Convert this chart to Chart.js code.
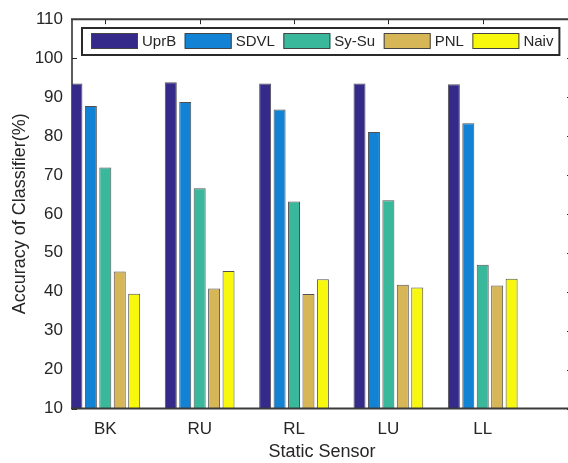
<!DOCTYPE html>
<html>
<head>
<meta charset="utf-8">
<script src="https://cdn.jsdelivr.net/npm/chart.js@4/dist/chart.umd.min.js"></script>
<style>
  html, body { margin: 0; padding: 0; background: #fff; overflow: hidden; }
  canvas { display: block; }
</style>
</head>
<body>
<canvas id="c" width="600" height="463"></canvas>
<script>
// Sensor positions and classifier accuracies (%)
const categories = ['BK', 'RU', 'RL', 'LU', 'LL'];
const seriesNames = ['UprB', 'SDVL', 'Sy-Su', 'PNL', 'Naiv'];
const uprB = [93.5, 93.8, 93.5, 93.5, 93.3];
const sdvl = [87.7, 88.7, 86.8, 81.0, 83.3];
const sySu = [71.9, 66.6, 63.2, 63.5, 46.9];
const pnl  = [45.2, 40.8, 39.4, 41.8, 41.6];
const naiv = [39.5, 45.3, 43.2, 41.1, 43.3];
const yTicks = [10, 20, 30, 40, 50, 60, 70, 80, 90, 100, 110];

const seriesValues = [uprB, sdvl, sySu, pnl, naiv];
const seriesColors = ['#35298a', '#1283d4', '#39b89b', '#d6b657', '#f8f80f'];

const FONT = "'Liberation Sans', Arial, Helvetica, sans-serif";
const INK = '#262626';

// Box outline, inward tick marks and the boxed legend
const framePlugin = {
  id: 'frame',
  beforeDatasetsDraw(chart) {
    const { ctx, chartArea: a, scales: { x, y } } = chart;
    ctx.save();
    ctx.strokeStyle = INK;
    ctx.lineWidth = 1;
    ctx.beginPath();
    y.ticks.forEach(t => {
      const py = Math.round(y.getPixelForValue(t.value)) + 0.5;
      ctx.moveTo(a.left, py); ctx.lineTo(a.left + 5, py);
      ctx.moveTo(a.right, py); ctx.lineTo(a.right - 5, py);
    });
    x.ticks.forEach(t => {
      const px = Math.round(x.getPixelForValue(t.value)) + 0.5;
      ctx.moveTo(px, a.top); ctx.lineTo(px, a.top + 5);
      ctx.moveTo(px, a.bottom); ctx.lineTo(px, a.bottom - 5);
    });
    ctx.stroke();
    ctx.lineWidth = 1.5;
    ctx.beginPath();
    ctx.moveTo(a.left, a.top); ctx.lineTo(a.left, a.bottom);
    ctx.stroke();
    ctx.restore();
  },
  afterDatasetsDraw(chart) {
    const { ctx, chartArea: a } = chart;
    ctx.save();
    ctx.strokeStyle = '#3a3a3a';
    ctx.lineWidth = 2;
    ctx.beginPath();
    ctx.moveTo(a.left - 1, a.top); ctx.lineTo(a.right, a.top);
    ctx.moveTo(a.left - 1, a.bottom); ctx.lineTo(a.right, a.bottom);
    ctx.stroke();

    // legend
    const boxL = 82, boxT = 28, boxH = 27;
    ctx.font = '15px ' + FONT;
    let cx = boxL + 9;
    const items = chart.data.datasets.map(ds => {
      const w = ctx.measureText(ds.label).width;
      const it = { x: cx, label: ds.label, color: ds.backgroundColor, w };
      cx += 47 + 4 + w + 8.5;
      return it;
    });
    const boxR = cx - 8.5 + 6;
    ctx.fillStyle = '#fff';
    ctx.fillRect(boxL, boxT, boxR - boxL, boxH);
    ctx.strokeStyle = '#2a2a2a';
    ctx.lineWidth = 2;
    ctx.strokeRect(boxL, boxT, boxR - boxL, boxH);
    items.forEach(it => {
      ctx.fillStyle = it.color;
      ctx.fillRect(it.x, boxT + 5.5, 47, 15);
      ctx.strokeStyle = '#444';
      ctx.lineWidth = 1;
      ctx.strokeRect(it.x + 0.5, boxT + 5.5, 46, 15);
      ctx.fillStyle = INK;
      ctx.textBaseline = 'middle';
      ctx.textAlign = 'left';
      ctx.fillText(it.label, it.x + 47 + 4, boxT + boxH / 2 + 0.5);
    });
    ctx.restore();
  }
};

const datasets = seriesNames.map((name, i) => ({
  label: name,
  data: seriesValues[i].map((v, k) => ({ x: k + 1, y: v })),
  backgroundColor: seriesColors[i],
  borderColor: 'rgba(50,50,50,0.85)',
  borderWidth: 1,
  borderSkipped: false,
  categoryPercentage: 0.765,
  barPercentage: 0.83,
  clip: 0
}));

new Chart(document.getElementById('c'), {
  type: 'bar',
  data: { datasets },
  options: {
    responsive: false,
    animation: false,
    devicePixelRatio: 1,
    layout: { padding: { top: 14, right: 28, left: 0, bottom: 0 } },
    plugins: { legend: { display: false }, tooltip: { enabled: false } },
    scales: {
      x: {
        type: 'linear',
        min: 0.647,
        max: 5.946,
        offset: false,
        grid: { display: false, drawTicks: false },
        border: { display: false },
        afterBuildTicks: s => { s.ticks = categories.map((c, i) => ({ value: i + 1 })); },
        afterFit: s => { s.height = 54.5; },
        ticks: {
          autoSkip: false,
          maxRotation: 0,
          padding: 11,
          color: INK,
          font: { family: FONT, size: 17 },
          callback: v => categories[v - 1]
        },
        title: {
          display: true,
          text: 'Static Sensor',
          color: INK,
          font: { family: FONT, size: 18 },
          padding: { top: 0, bottom: 0 }
        }
      },
      y: {
        min: 10,
        max: 110,
        grid: { display: false, drawTicks: false },
        border: { display: false },
        afterBuildTicks: s => { s.ticks = yTicks.map(v => ({ value: v })); },
        afterFit: s => { s.width = 72; },
        ticks: {
          padding: 9,
          color: INK,
          font: { family: FONT, size: 17 }
        },
        title: {
          display: true,
          text: 'Accuracy of Classifier(%)',
          color: INK,
          font: { family: FONT, size: 18 },
          padding: { top: 9, bottom: 0 }
        }
      }
    }
  },
  plugins: [framePlugin]
});
</script>
</body>
</html>
